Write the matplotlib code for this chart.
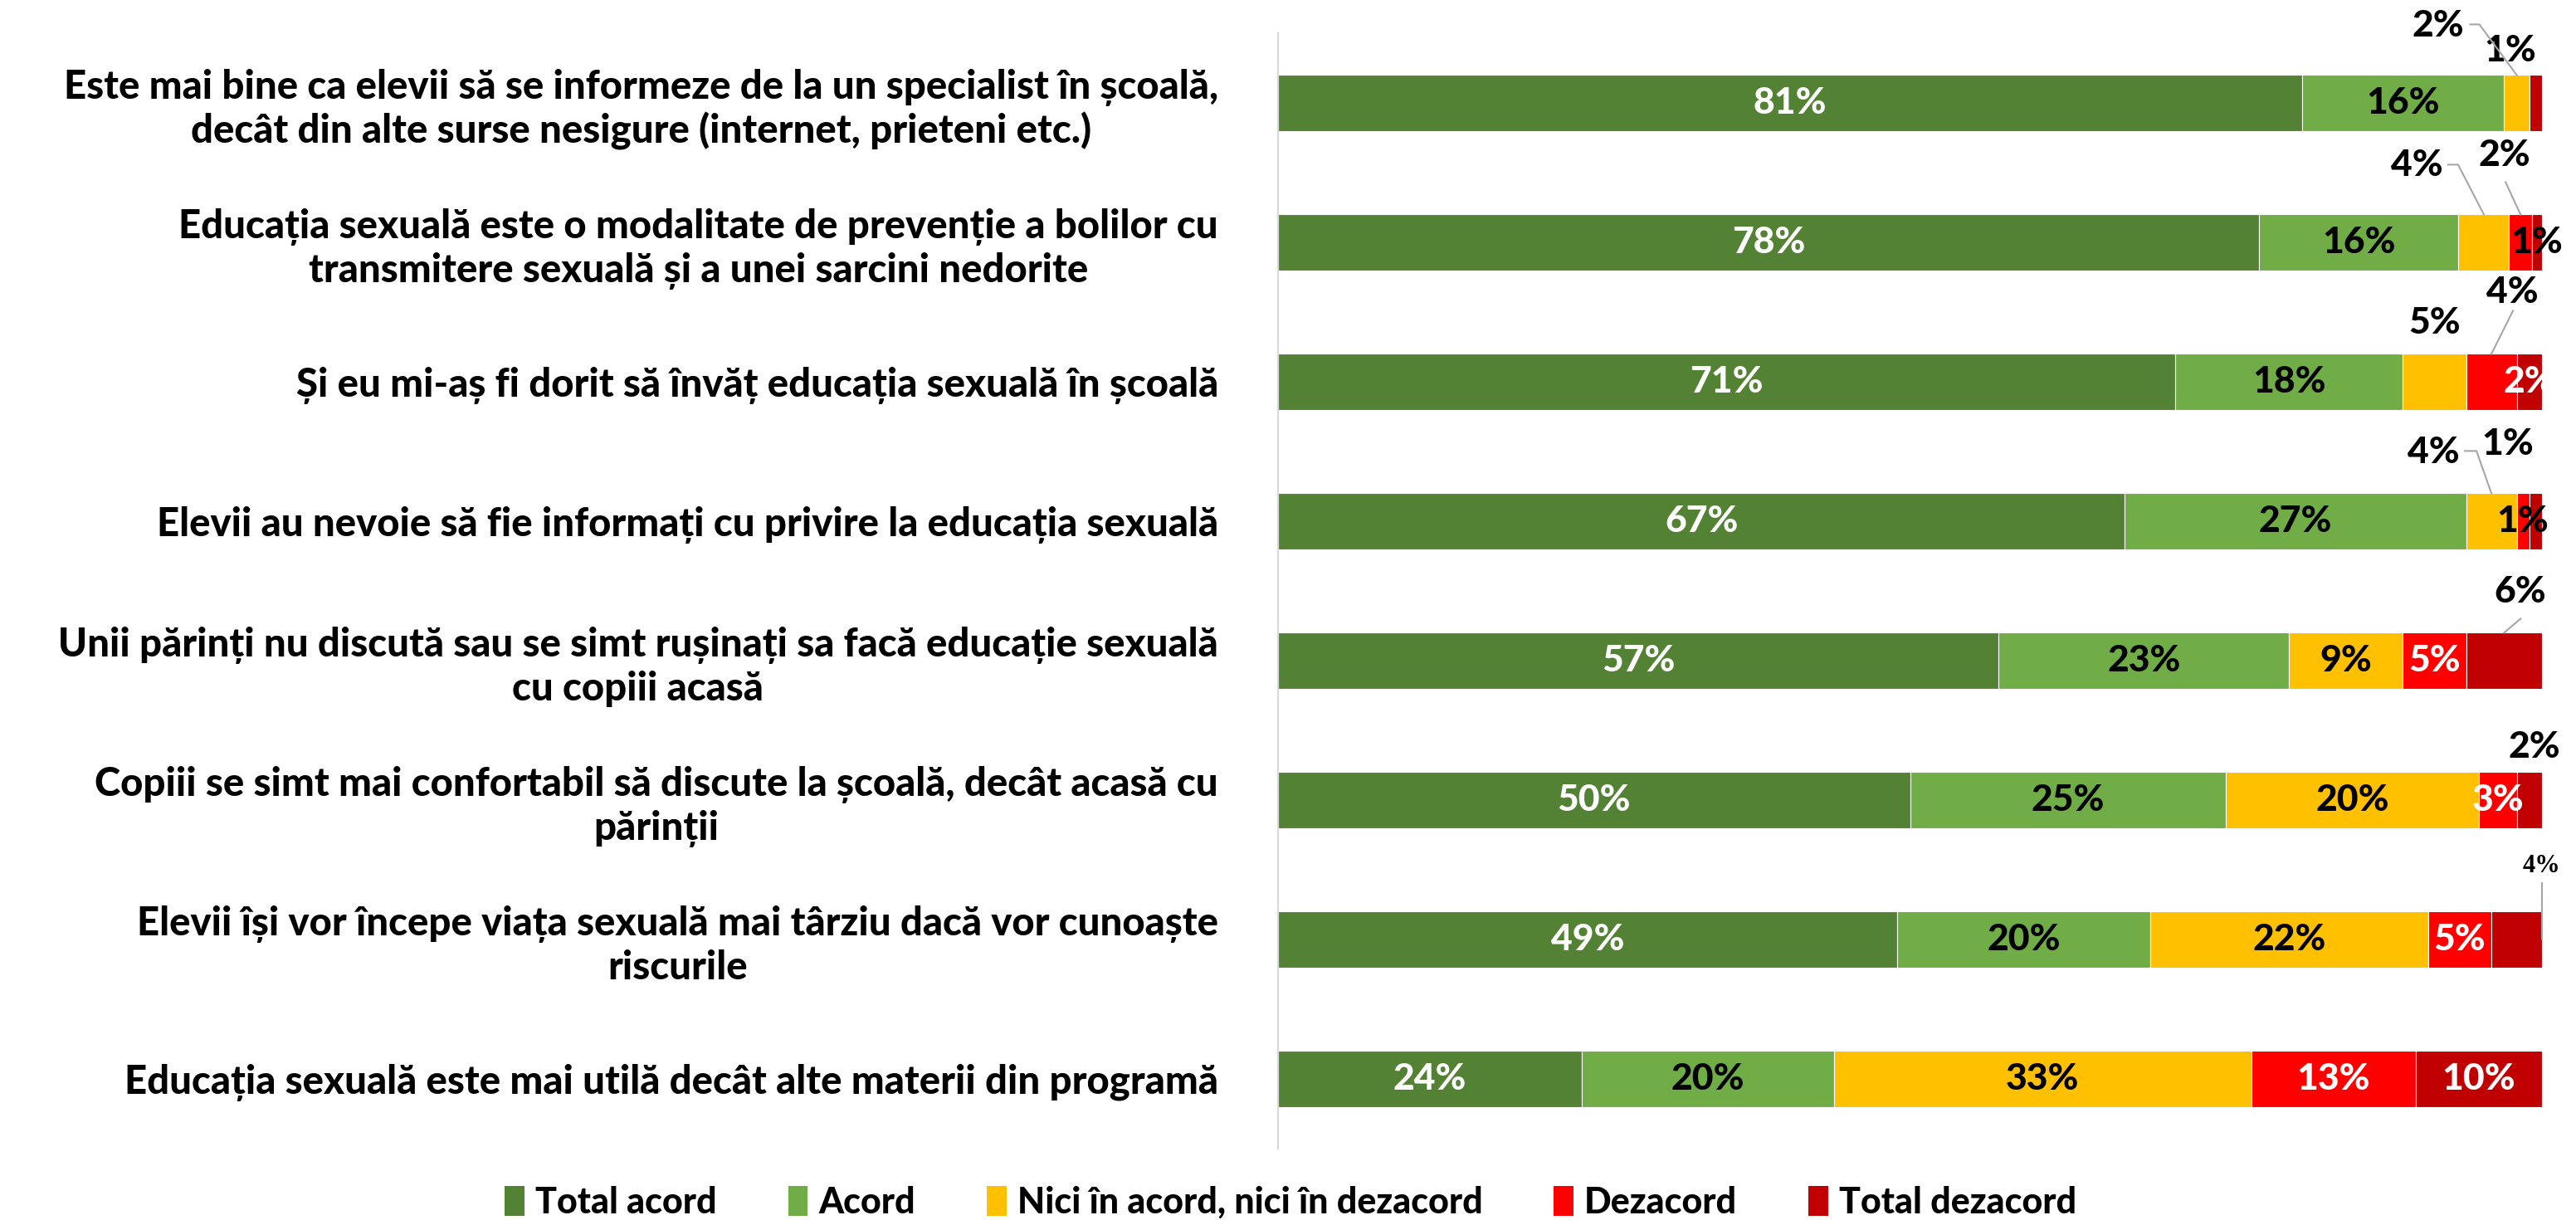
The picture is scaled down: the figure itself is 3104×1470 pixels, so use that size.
import matplotlib
matplotlib.use("Agg")
import matplotlib.pyplot as plt
from matplotlib.patches import Patch

plt.rcParams.update({
    "font.family": ["Lato", "DejaVu Sans"],
    "font.weight": "black",
})

categories = [
    "Este mai bine ca elevii să se informeze de la un specialist în școală,\ndecât din alte surse nesigure (internet, prieteni etc.)",
    "Educația sexuală este o modalitate de prevenție a bolilor cu\ntransmitere sexuală și a unei sarcini nedorite",
    "Și eu mi-aș fi dorit să învăț educația sexuală în școală",
    "Elevii au nevoie să fie informați cu privire la educația sexuală",
    "Unii părinți nu discută sau se simt rușinați sa facă educație sexuală\ncu copiii acasă",
    "Copiii se simt mai confortabil să discute la școală, decât acasă cu\npărinții",
    "Elevii își vor începe viața sexuală mai târziu dacă vor cunoaște\nriscurile",
    "Educația sexuală este mai utilă decât alte materii din programă",
]
series_names = ["Total acord", "Acord", "Nici în acord, nici în dezacord", "Dezacord", "Total dezacord"]
total_acord = [81, 77.6, 71, 67, 57, 50, 49, 24]
acord = [16, 15.8, 18, 27, 23, 25, 20, 20]
neutru = [2, 4, 5, 4, 9, 20, 22, 33]
dezacord = [0, 1.8, 4, 1, 5, 3, 5, 13]
total_dezacord = [1, 0.8, 2, 1, 6, 2, 4, 10]

colors = ["#548235", "#70AD47", "#FFC000", "#FF0000", "#C00000"]
inside_text = ["white", "black", "black", "white", "white"]

# callouts: (row, series) -> label offset px (dx, dy down), leader points px
callouts = {
    (0, 2): ((-95, -59), [(-56, -61), (-45, -61), (0, 0)]),
    (0, 4): ((-31, -29), None),
    (1, 2): ((-81, -59), [(-43, -60), (-31, -60), (0, 0)]),
    (1, 3): ((-19, -71), [(-18, -39), (0, 0)]),
    (2, 2): ((0, -37), None),
    (2, 3): ((25, -74), [(26, -52), (0, 0)]),
    (3, 2): ((-70, -49), [(-32, -51), (-18, -51), (0, 0)]),
    (3, 4): ((-34, -59), None),
    (4, 4): ((19, -49), [(20, -17), (0, 0)]),
    (5, 4): ((6, -30), None),
    (6, 4): ((30, -55), [(30, -34), (30, 33)]),
}
black_inside = {(1, 4), (3, 3)}

W, H = 3104, 1470
fig = plt.figure(figsize=(W / 100, H / 100), dpi=100)
ax_l, ax_r, ax_t, ax_b = 1540, 3063, 40, 1384
ax = fig.add_axes([ax_l / W, 1 - ax_b / H, (ax_r - ax_l) / W, (ax_b - ax_t) / H])
px_x = (ax_r - ax_l) / 100.0
px_y = (ax_b - ax_t) / 8.0

data = [total_acord, acord, neutru, dezacord, total_dezacord]
ypos = list(range(len(categories)))
bh = 0.4
left = [0.0] * len(categories)
for s, vals in enumerate(data):
    ax.barh(ypos, vals, left=left, height=bh, color=colors[s], edgecolor="white",
            linewidth=0.8, label=series_names[s])
    for i, v in enumerate(vals):
        cx = left[i] + v / 2
        if v <= 0:
            continue
        txt = f"{v:.0f}%"
        if (i, s) in callouts:
            (dx, dy), leader = callouts[(i, s)]
            ytop = i - bh / 2
            fam = ["Lato", "DejaVu Sans"]
            fs = 32
            if (i, s) == (6, 4):
                fam = ["Liberation Serif"]
                fs = 22
            ax.text(cx + dx / px_x, ytop + dy / px_y, txt, ha="center", va="center",
                    fontsize=fs, fontweight="black", color="black", family=fam)
            if leader:
                ax.plot([cx + p[0] / px_x for p in leader], [ytop + p[1] / px_y for p in leader],
                        color="#A6A6A6", lw=1.5, clip_on=False, zorder=5)
        else:
            c = "black" if (i, s) in black_inside else inside_text[s]
            ax.text(cx, i, txt, ha="center", va="center", fontsize=32,
                    fontweight="black", color=c, clip_on=False, zorder=6)
    left = [l + v for l, v in zip(left, vals)]

ax.set_xlim(0, 100)
ax.set_ylim(len(categories) - 0.5, -0.5)
ax.set_yticks(ypos)
ax.set_yticklabels(categories, fontsize=34, fontweight="black", multialignment="center")
ax.tick_params(axis="y", length=0, pad=52)
ax.set_xticks([])
for sp in ["top", "right", "bottom"]:
    ax.spines[sp].set_visible(False)
ax.spines["left"].set_color("#D9D9D9")
ax.spines["left"].set_linewidth(1.5)

handles = [Patch(facecolor=colors[s], label=series_names[s]) for s in range(5)]
fig.legend(handles=handles, loc="center", bbox_to_anchor=(0.501, 1 - 1449 / H), ncol=5,
           frameon=False, handlelength=0.55, handleheight=0.9,
           handletextpad=0.3, columnspacing=2.0, prop={"weight": "black", "size": 31})

fig.savefig("out.png", dpi=100)
